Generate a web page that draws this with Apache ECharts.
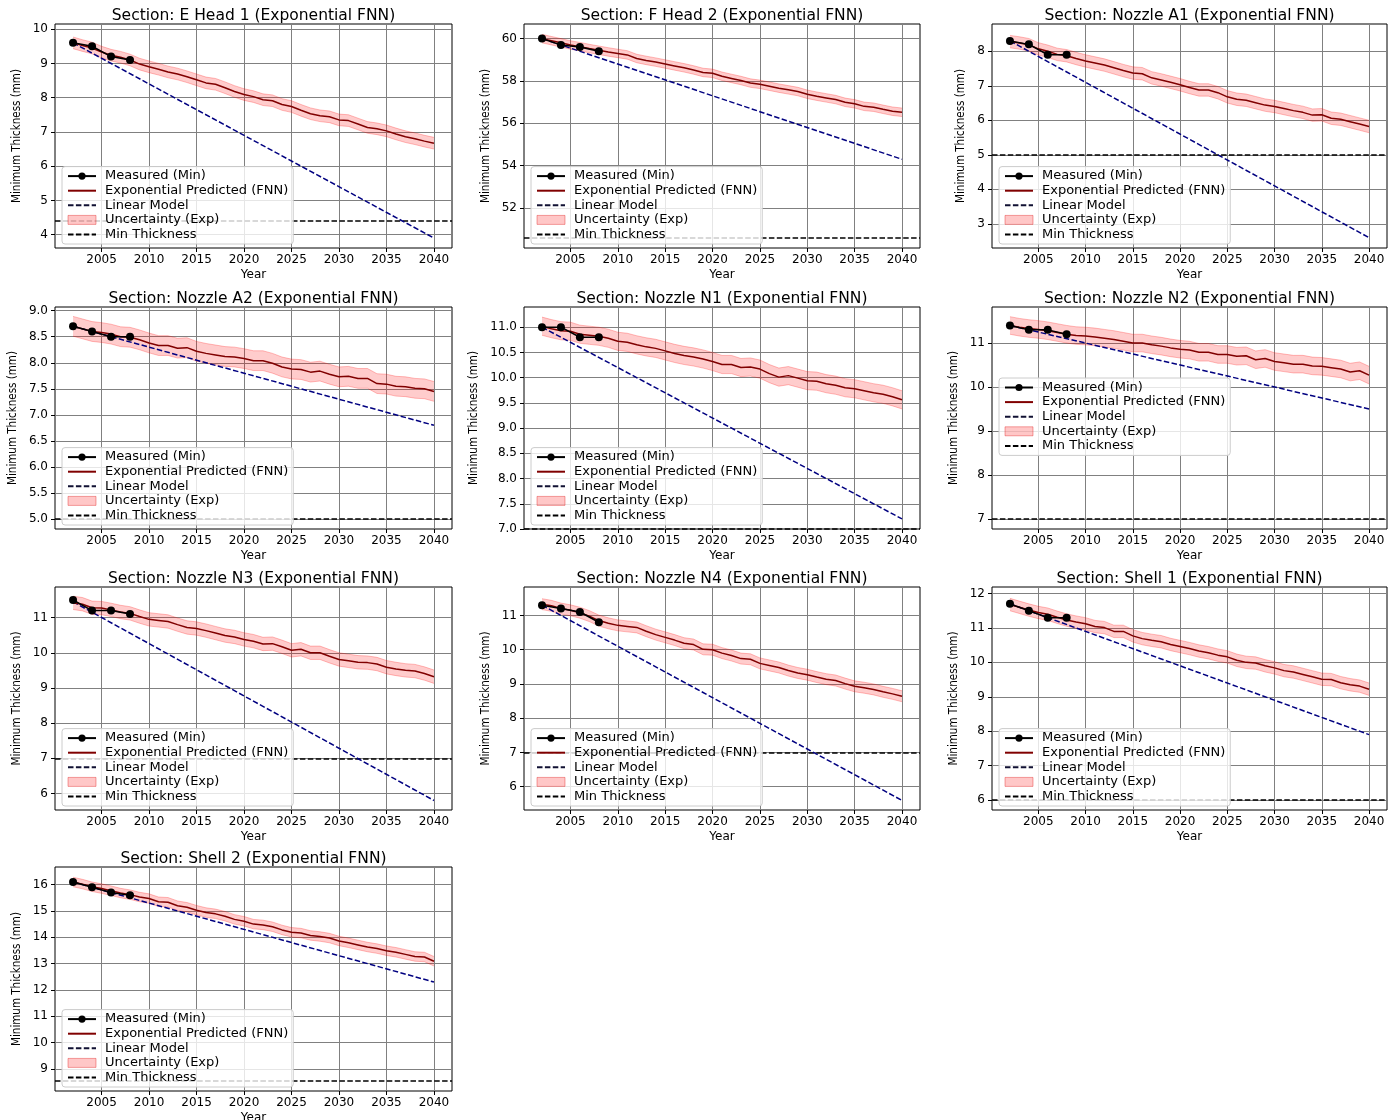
<!DOCTYPE html>
<html>
<head>
<meta charset="utf-8">
<title>Minimum thickness forecasts by section</title>
<script src="https://cdn.jsdelivr.net/npm/echarts@6/dist/echarts.min.js"></script>
<style>
html, body { margin: 0; padding: 0; background: #fff; }
#main { width: 1395px; height: 1120px; }
</style>
</head>
<body>
<div id="main"></div>
<script>
// ---- data ----
var sections = ['E Head 1', 'F Head 2', 'Nozzle A1', 'Nozzle A2', 'Nozzle N1',
                'Nozzle N2', 'Nozzle N3', 'Nozzle N4', 'Shell 1', 'Shell 2'];

var measuredYears = [2002, 2004, 2006, 2008];
var measured = [
    [9.6, 9.5, 9.2, 9.1],
    [60.0, 59.7, 59.6, 59.4],
    [8.3, 8.2, 7.9, 7.9],
    [8.7, 8.6, 8.5, 8.5],
    [11.0, 11.0, 10.8, 10.8],
    [11.4, 11.3, 11.3, 11.2],
    [11.5, 11.2, 11.2, 11.1],
    [11.3, 11.2, 11.1, 10.8],
    [11.7, 11.5, 11.3, 11.3],
    [16.1, 15.9, 15.7, 15.6]
];

var forecastYears = [2002, 2003, 2004, 2005, 2006, 2007, 2008, 2009, 2010, 2011,
                     2012, 2013, 2014, 2015, 2016, 2017, 2018, 2019, 2020, 2021,
                     2022, 2023, 2024, 2025, 2026, 2027, 2028, 2029, 2030, 2031,
                     2032, 2033, 2034, 2035, 2036, 2037, 2038, 2039, 2040];

var predicted = [
    [9.60, 9.52, 9.45, 9.33, 9.24, 9.18, 9.10, 8.98, 8.90, 8.83, 8.75, 8.69, 8.61, 8.52, 8.43, 8.39, 8.29, 8.18, 8.09, 8.03,
     7.94, 7.91, 7.80, 7.74, 7.63, 7.53, 7.47, 7.44, 7.35, 7.33, 7.23, 7.13, 7.09, 7.03, 6.94, 6.86, 6.80, 6.73, 6.67],
    [60.00, 59.90, 59.80, 59.70, 59.62, 59.53, 59.45, 59.37, 59.30, 59.23, 59.06, 58.97, 58.89, 58.80, 58.71, 58.62, 58.52, 58.40, 58.36, 58.22,
     58.12, 58.02, 57.90, 57.84, 57.75, 57.66, 57.58, 57.50, 57.37, 57.28, 57.20, 57.12, 56.99, 56.92, 56.80, 56.76, 56.66, 56.57, 56.52],
    [8.28, 8.24, 8.19, 8.07, 8.00, 7.91, 7.87, 7.79, 7.72, 7.66, 7.60, 7.52, 7.44, 7.37, 7.35, 7.23, 7.17, 7.10, 7.03, 6.95,
     6.88, 6.88, 6.80, 6.68, 6.61, 6.58, 6.51, 6.44, 6.40, 6.34, 6.28, 6.23, 6.15, 6.16, 6.06, 6.03, 5.96, 5.89, 5.82],
    [8.70, 8.65, 8.60, 8.58, 8.55, 8.50, 8.49, 8.44, 8.38, 8.33, 8.33, 8.28, 8.29, 8.22, 8.18, 8.15, 8.12, 8.11, 8.08, 8.04,
     8.04, 7.99, 7.92, 7.88, 7.87, 7.82, 7.84, 7.78, 7.73, 7.74, 7.70, 7.70, 7.60, 7.59, 7.55, 7.54, 7.51, 7.50, 7.45],
    [11.02, 10.97, 10.93, 10.92, 10.86, 10.84, 10.82, 10.78, 10.72, 10.70, 10.65, 10.61, 10.58, 10.53, 10.48, 10.44, 10.41, 10.37, 10.32, 10.26,
     10.26, 10.20, 10.21, 10.17, 10.08, 10.01, 10.04, 9.99, 9.94, 9.93, 9.88, 9.85, 9.80, 9.78, 9.74, 9.70, 9.67, 9.62, 9.56],
    [11.40, 11.36, 11.33, 11.31, 11.28, 11.24, 11.20, 11.17, 11.16, 11.14, 11.11, 11.08, 11.04, 11.00, 11.00, 10.96, 10.93, 10.89, 10.86, 10.84,
     10.79, 10.79, 10.74, 10.74, 10.70, 10.71, 10.62, 10.65, 10.58, 10.55, 10.52, 10.52, 10.48, 10.47, 10.44, 10.41, 10.34, 10.37, 10.27],
    [11.42, 11.38, 11.28, 11.27, 11.22, 11.16, 11.12, 11.03, 10.95, 10.92, 10.89, 10.80, 10.72, 10.69, 10.63, 10.56, 10.49, 10.45, 10.38, 10.33,
     10.25, 10.26, 10.17, 10.07, 10.10, 10.00, 10.00, 9.90, 9.81, 9.77, 9.73, 9.72, 9.68, 9.59, 9.54, 9.50, 9.48, 9.41, 9.32],
    [11.33, 11.28, 11.20, 11.15, 11.08, 10.98, 10.85, 10.77, 10.71, 10.68, 10.65, 10.54, 10.44, 10.36, 10.28, 10.19, 10.15, 10.01, 10.00, 9.90,
     9.83, 9.74, 9.72, 9.60, 9.54, 9.48, 9.39, 9.32, 9.27, 9.20, 9.14, 9.10, 9.01, 8.93, 8.89, 8.84, 8.77, 8.71, 8.64],
    [11.68, 11.60, 11.52, 11.45, 11.40, 11.31, 11.23, 11.17, 11.12, 11.04, 11.01, 10.90, 10.90, 10.77, 10.69, 10.64, 10.60, 10.52, 10.46, 10.40,
     10.33, 10.28, 10.21, 10.16, 10.06, 10.00, 9.98, 9.90, 9.84, 9.76, 9.72, 9.65, 9.58, 9.51, 9.50, 9.41, 9.35, 9.31, 9.22],
    [16.10, 16.02, 15.92, 15.85, 15.77, 15.68, 15.62, 15.53, 15.47, 15.35, 15.33, 15.20, 15.14, 15.03, 14.94, 14.89, 14.80, 14.68, 14.61, 14.50,
     14.47, 14.40, 14.28, 14.19, 14.16, 14.07, 14.03, 13.97, 13.86, 13.79, 13.71, 13.63, 13.57, 13.49, 13.43, 13.35, 13.27, 13.25, 13.09]
];

// half width of the uncertainty band
var bandHalf = [0.17, 0.2, 0.18, 0.19, 0.18, 0.2, 0.19, 0.16, 0.18, 0.18];

// linear model at 2002 and at 2040
var linearStart = [9.6, 60.0, 8.3, 8.7, 11.0, 11.4, 11.45, 11.3, 11.7, 16.1];
var linearEnd = [3.9, 54.3, 2.6, 6.8, 7.2, 9.5, 5.8, 5.6, 7.9, 12.3];

var minThickness = [4.42, 50.58, 5.0, 5.0, 7.0, 7.0, 7.0, 7.0, 6.0, 8.55];

var xTicks = [2005, 2010, 2015, 2020, 2025, 2030, 2035, 2040];
var yTicks = [
    [4, 5, 6, 7, 8, 9, 10],
    [52, 54, 56, 58, 60],
    [3, 4, 5, 6, 7, 8],
    [5.0, 5.5, 6.0, 6.5, 7.0, 7.5, 8.0, 8.5, 9.0],
    [7.0, 7.5, 8.0, 8.5, 9.0, 9.5, 10.0, 10.5, 11.0],
    [7, 8, 9, 10, 11],
    [6, 7, 8, 9, 10, 11],
    [6, 7, 8, 9, 10, 11],
    [6, 7, 8, 9, 10, 11, 12],
    [9, 10, 11, 12, 13, 14, 15, 16]
];
var yRange = [
    [3.61, 10.15], [50.11, 60.69], [2.30, 8.79], [4.81, 9.07], [7.0, 11.4],
    [6.77, 11.82], [5.53, 11.87], [5.32, 11.83], [5.71, 12.19], [8.16, 16.67]
];
var xRange = [2000.1, 2041.9];

// ---- layout ----
var colLeft = [55, 524, 992];
var colWidth = [397, 396, 395];
var rowTop = [24, 307, 587, 867];
var rowHeight = [224, 222, 223, 224];
var legendOffsetTop = [null, null, null, null, null, 71, null, null, null, null];

var FONT = 'DejaVu Sans';
var DASH = [5.5, 2.4];
var H = 1120;
var hideMarker = { opacity: 0 };

var measureCtx = document.createElement('canvas').getContext('2d');
measureCtx.font = '12px "DejaVu Sans"';

var chart = echarts.init(document.getElementById('main'));

var grids = [], xAxes = [], yAxes = [], titles = [], legends = [], series = [];

// uncertainty band: polygon between lower and upper edge, through the axis scales
function bandRenderer(rows) {
    return function (params, api) {
        if (params.dataIndex !== 0) return null;
        var upper = rows.map(function (d) { return api.coord([d[0], d[2]]); });
        var lower = rows.map(function (d) { return api.coord([d[0], d[1]]); });
        var poly = upper.concat(lower.slice().reverse());
        return {
            type: 'group',
            children: [
                { type: 'polygon', shape: { points: poly },
                  style: { fill: 'rgba(255,0,0,0.2)', stroke: null } },
                { type: 'polyline', shape: { points: upper },
                  style: { fill: null, stroke: 'rgba(255,0,0,0.25)', lineWidth: 1 } },
                { type: 'polyline', shape: { points: lower },
                  style: { fill: null, stroke: 'rgba(255,0,0,0.25)', lineWidth: 1 } }
            ]
        };
    };
}

sections.forEach(function (name, k) {
    var r = Math.floor(k / 3), c = k % 3;
    var left = colLeft[c], top = rowTop[r], w = colWidth[c], h = rowHeight[r];

    var decimals = yTicks[k].some(function (v) { return v % 1 !== 0; }) ? 1 : 0;
    var fmt = function (v) { return Number(v).toFixed(decimals); };
    var labelW = 0;
    yTicks[k].forEach(function (v) {
        labelW = Math.max(labelW, measureCtx.measureText(fmt(v)).width);
    });

    grids.push({
        left: left, top: top, width: w, height: h,
        show: true, borderColor: '#000', borderWidth: 1,
        backgroundColor: 'transparent', outerBoundsMode: 'none'
    });

    titles.push({
        text: 'Section: ' + name + ' (Exponential FNN)',
        left: left + w / 2, top: top - 16, textAlign: 'center', padding: 0,
        textStyle: { fontFamily: FONT, fontSize: 15.5, fontWeight: 'normal', color: '#000' }
    });

    xAxes.push({
        type: 'value', gridIndex: k, min: xRange[0], max: xRange[1],
        name: 'Year', nameLocation: 'middle', nameGap: 21,
        nameTextStyle: { fontFamily: FONT, fontSize: 12, color: '#000' },
        axisLine: { show: false },
        axisTick: { show: true, length: 4, customValues: xTicks, lineStyle: { color: '#000' } },
        axisLabel: {
            customValues: xTicks, margin: 6, fontFamily: FONT, fontSize: 12, color: '#000',
            formatter: function (v) { return String(v); }
        },
        splitLine: { show: true, lineStyle: { color: '#808080', width: 1 } }
    });

    yAxes.push({
        type: 'value', gridIndex: k, min: yRange[k][0], max: yRange[k][1],
        name: 'Minimum Thickness (mm)', nameLocation: 'middle', nameGap: labelW + 17,
        nameTextStyle: { fontFamily: '"DejaVu Sans Condensed", "Liberation Sans"', fontSize: 11.5, color: '#000' },
        axisLine: { show: false },
        axisTick: { show: true, length: 4, customValues: yTicks[k], lineStyle: { color: '#000' } },
        axisLabel: {
            customValues: yTicks[k], margin: 7, fontFamily: FONT, fontSize: 12, color: '#000',
            formatter: fmt
        },
        splitLine: { show: true, lineStyle: { color: '#808080', width: 1 } }
    });

    var legend = {
        orient: 'vertical', left: left + 7,
        data: [
            { name: 'Measured (Min)' },
            { name: 'Exponential Predicted (FNN)', itemStyle: hideMarker },
            { name: 'Linear Model', itemStyle: hideMarker, lineStyle: { color: '#111133' } },
            { name: 'Uncertainty (Exp)', icon: 'rect',
              itemStyle: { color: 'rgba(255,0,0,0.22)', borderColor: 'rgba(220,0,0,0.35)', borderWidth: 1 } },
            { name: 'Min Thickness', itemStyle: hideMarker }
        ],
        itemWidth: 28, itemHeight: 9, itemGap: 1.6, padding: [3, 5],
        backgroundColor: 'rgba(255,255,255,0.8)', borderColor: '#cccccc', borderWidth: 1, borderRadius: 3,
        textStyle: { fontFamily: FONT, fontSize: 13, color: '#000', padding: [0, 0, 0, 4] },
        selectedMode: false
    };
    if (legendOffsetTop[k] !== null) legend.top = top + legendOffsetTop[k];
    else legend.bottom = H - (top + h - 4);
    legends.push(legend);

    var bandRows = predicted[k].map(function (v, i) {
        return [forecastYears[i], v - bandHalf[k], v + bandHalf[k]];
    });

    series.push({
        type: 'custom', name: 'Uncertainty (Exp)', xAxisIndex: k, yAxisIndex: k,
        data: bandRows, encode: { x: 0, y: [1, 2] },
        itemStyle: { color: 'rgba(255,0,0,0.22)' },
        renderItem: bandRenderer(bandRows), z: 1, silent: true
    });
    series.push({
        type: 'line', name: 'Linear Model', xAxisIndex: k, yAxisIndex: k,
        data: [[forecastYears[0], linearStart[k]], [forecastYears[forecastYears.length - 1], linearEnd[k]]],
        symbol: 'none', itemStyle: { color: '#000080' },
        lineStyle: { color: '#000080', width: 1.5, type: DASH }, z: 2
    });
    series.push({
        type: 'line', name: 'Min Thickness', xAxisIndex: k, yAxisIndex: k,
        data: [], symbol: 'none', itemStyle: { color: '#000' },
        lineStyle: { color: '#000', width: 1.5, type: DASH }, z: 2,
        markLine: {
            silent: true, z: 2, symbol: ['none', 'none'], label: { show: false },
            lineStyle: { color: '#000', width: 1.5, type: DASH },
            data: [{ yAxis: minThickness[k] }]
        }
    });
    series.push({
        type: 'line', name: 'Exponential Predicted (FNN)', xAxisIndex: k, yAxisIndex: k,
        data: predicted[k].map(function (v, i) { return [forecastYears[i], v]; }),
        symbol: 'none', itemStyle: { color: '#800000' },
        lineStyle: { color: '#800000', width: 1.5 }, z: 3
    });
    series.push({
        type: 'line', name: 'Measured (Min)', xAxisIndex: k, yAxisIndex: k,
        data: measured[k].map(function (v, i) { return [measuredYears[i], v]; }),
        symbol: 'circle', symbolSize: 8, itemStyle: { color: '#000' },
        lineStyle: { color: '#000', width: 1.5 }, z: 3
    });
});

chart.setOption({
    animation: false,
    backgroundColor: '#fff',
    title: titles,
    grid: grids,
    xAxis: xAxes,
    yAxis: yAxes,
    legend: legends,
    series: series
});
</script>
</body>
</html>
